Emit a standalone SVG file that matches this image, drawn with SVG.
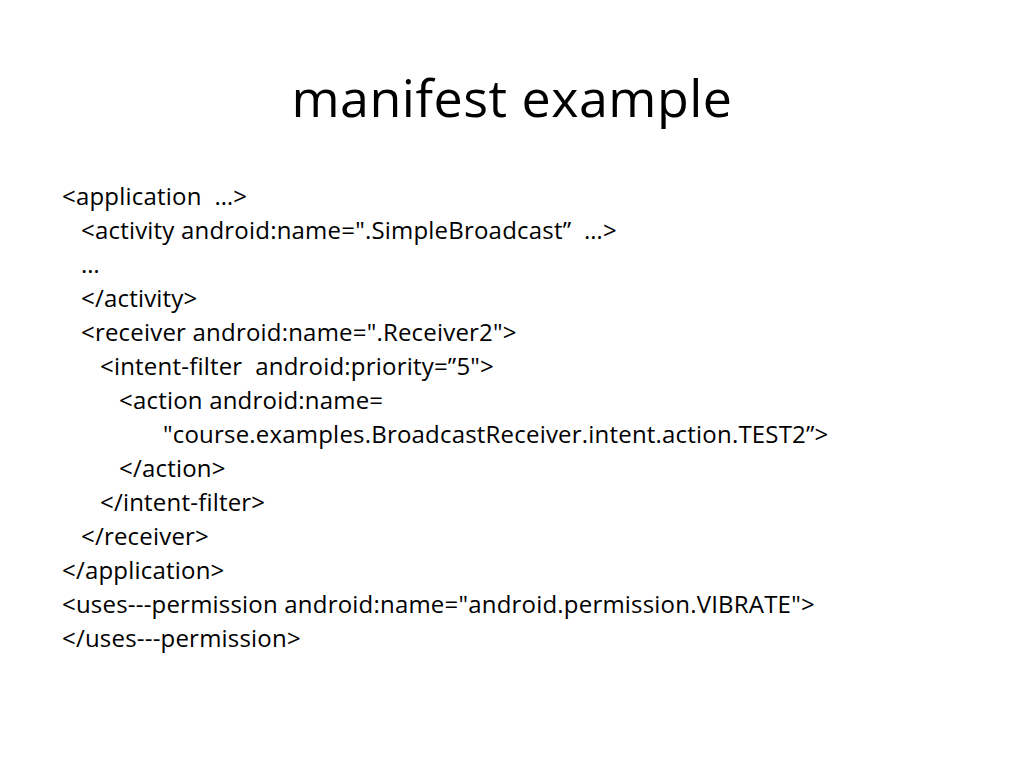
<svg xmlns="http://www.w3.org/2000/svg" width="1024" height="768" viewBox="0 0 1024 768">
<style>
.t{font-family:"Open Sans","Liberation Sans",sans-serif;font-size:24px;letter-spacing:0.2px;fill:#000;white-space:pre}
.h{font-family:"Open Sans","Liberation Sans",sans-serif;font-size:52px;letter-spacing:0.5px;fill:#000}
</style>
<rect width="1024" height="768" fill="#fff"/>
<text class="h" x="512" y="117" text-anchor="middle">manifest example</text>
<g class="t">
<text class="t" x="62" y="205" xml:space="preserve">&lt;application  …&gt;</text>
<text class="t" x="81" y="239" xml:space="preserve">&lt;activity android:name=".SimpleBroadcast”  …&gt;</text>
<text class="t" x="81" y="273">…</text>
<text class="t" x="81" y="307">&lt;/activity&gt;</text>
<text class="t" x="81" y="341">&lt;receiver android:name=".Receiver2"&gt;</text>
<text class="t" x="100" y="375" xml:space="preserve">&lt;intent-filter  android:priority=”5"&gt;</text>
<text class="t" x="119" y="409">&lt;action android:name=</text>
<text class="t" x="163" y="443">"course.examples.BroadcastReceiver.intent.action.TEST2”&gt;</text>
<text class="t" x="119" y="477">&lt;/action&gt;</text>
<text class="t" x="100" y="511">&lt;/intent-filter&gt;</text>
<text class="t" x="81" y="545">&lt;/receiver&gt;</text>
<text class="t" x="62" y="579">&lt;/application&gt;</text>
<text class="t" x="62" y="613">&lt;uses---permission android:name="android.permission.VIBRATE"&gt;</text>
<text class="t" x="62" y="647">&lt;/uses---permission&gt;</text>
</g>
</svg>
